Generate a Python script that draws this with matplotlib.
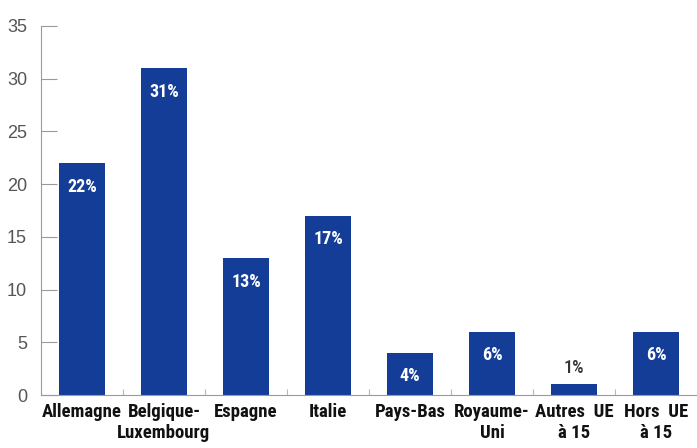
import matplotlib
matplotlib.use("Agg")
import matplotlib.pyplot as plt
import numpy as np

categories = ["Allemagne", "Belgique-\nLuxembourg", "Espagne", "Italie",
              "Pays-Bas", "Royaume-\nUni", "Autres  UE\nà 15", "Hors  UE\nà 15"]
values = [22, 31, 13, 17, 4, 6, 1, 6]
labels = ["22%", "31%", "13%", "17%", "4%", "6%", "1%", "6%"]
yticks = [0, 5, 10, 15, 20, 25, 30, 35]

barColor = "#143d98"
axisColor = "#9a9a9a"
textColor = "#555555"
narrow = ["Roboto Condensed", "Archivo Narrow", "DejaVu Sans"]

fig = plt.figure(figsize=(6.97, 4.48), dpi=100)
ax = fig.add_axes([41 / 697, 53 / 448, 656 / 697, 369 / 448])

x = np.arange(len(categories))
bars = ax.bar(x, values, width=0.56, color=barColor)

for xi, v, lab in zip(x, values, labels):
    if v >= 3:
        ax.annotate(lab, (xi, v), xytext=(0, -17), textcoords="offset points",
                    ha="center", va="center", color="white", fontsize=13,
                    fontweight="bold", family=narrow)
    else:
        ax.annotate(lab, (xi, v), xytext=(0, 12), textcoords="offset points",
                    ha="center", va="center", color="#333333", fontsize=13,
                    fontweight="medium", family=narrow)

ax.set_xlim(-0.5, len(categories) - 0.5)
ax.set_ylim(0, 35)
ax.set_yticks(yticks)
ax.set_yticklabels([str(t) for t in yticks], color=textColor, fontsize=13,
                   family=["Liberation Sans", "DejaVu Sans"])
ax.tick_params(axis="y", direction="in", length=11.5, width=0.8,
               color=axisColor, pad=10)

ax.set_xticks(x)
ax.set_xticklabels(categories, fontsize=13.5, fontweight="bold",
                   family=narrow, color="#111111", linespacing=1.2)
ax.tick_params(axis="x", length=0, pad=6)
ax.set_xticks(x[:-1] + 0.5, minor=True)
ax.tick_params(axis="x", which="minor", direction="in", length=4,
               color="#d2b48c", width=0.8)

for s in ["top", "right"]:
    ax.spines[s].set_visible(False)
for s in ["left", "bottom"]:
    ax.spines[s].set_color(axisColor)
    ax.spines[s].set_linewidth(0.8)

fig.savefig("out.png", dpi=100)
